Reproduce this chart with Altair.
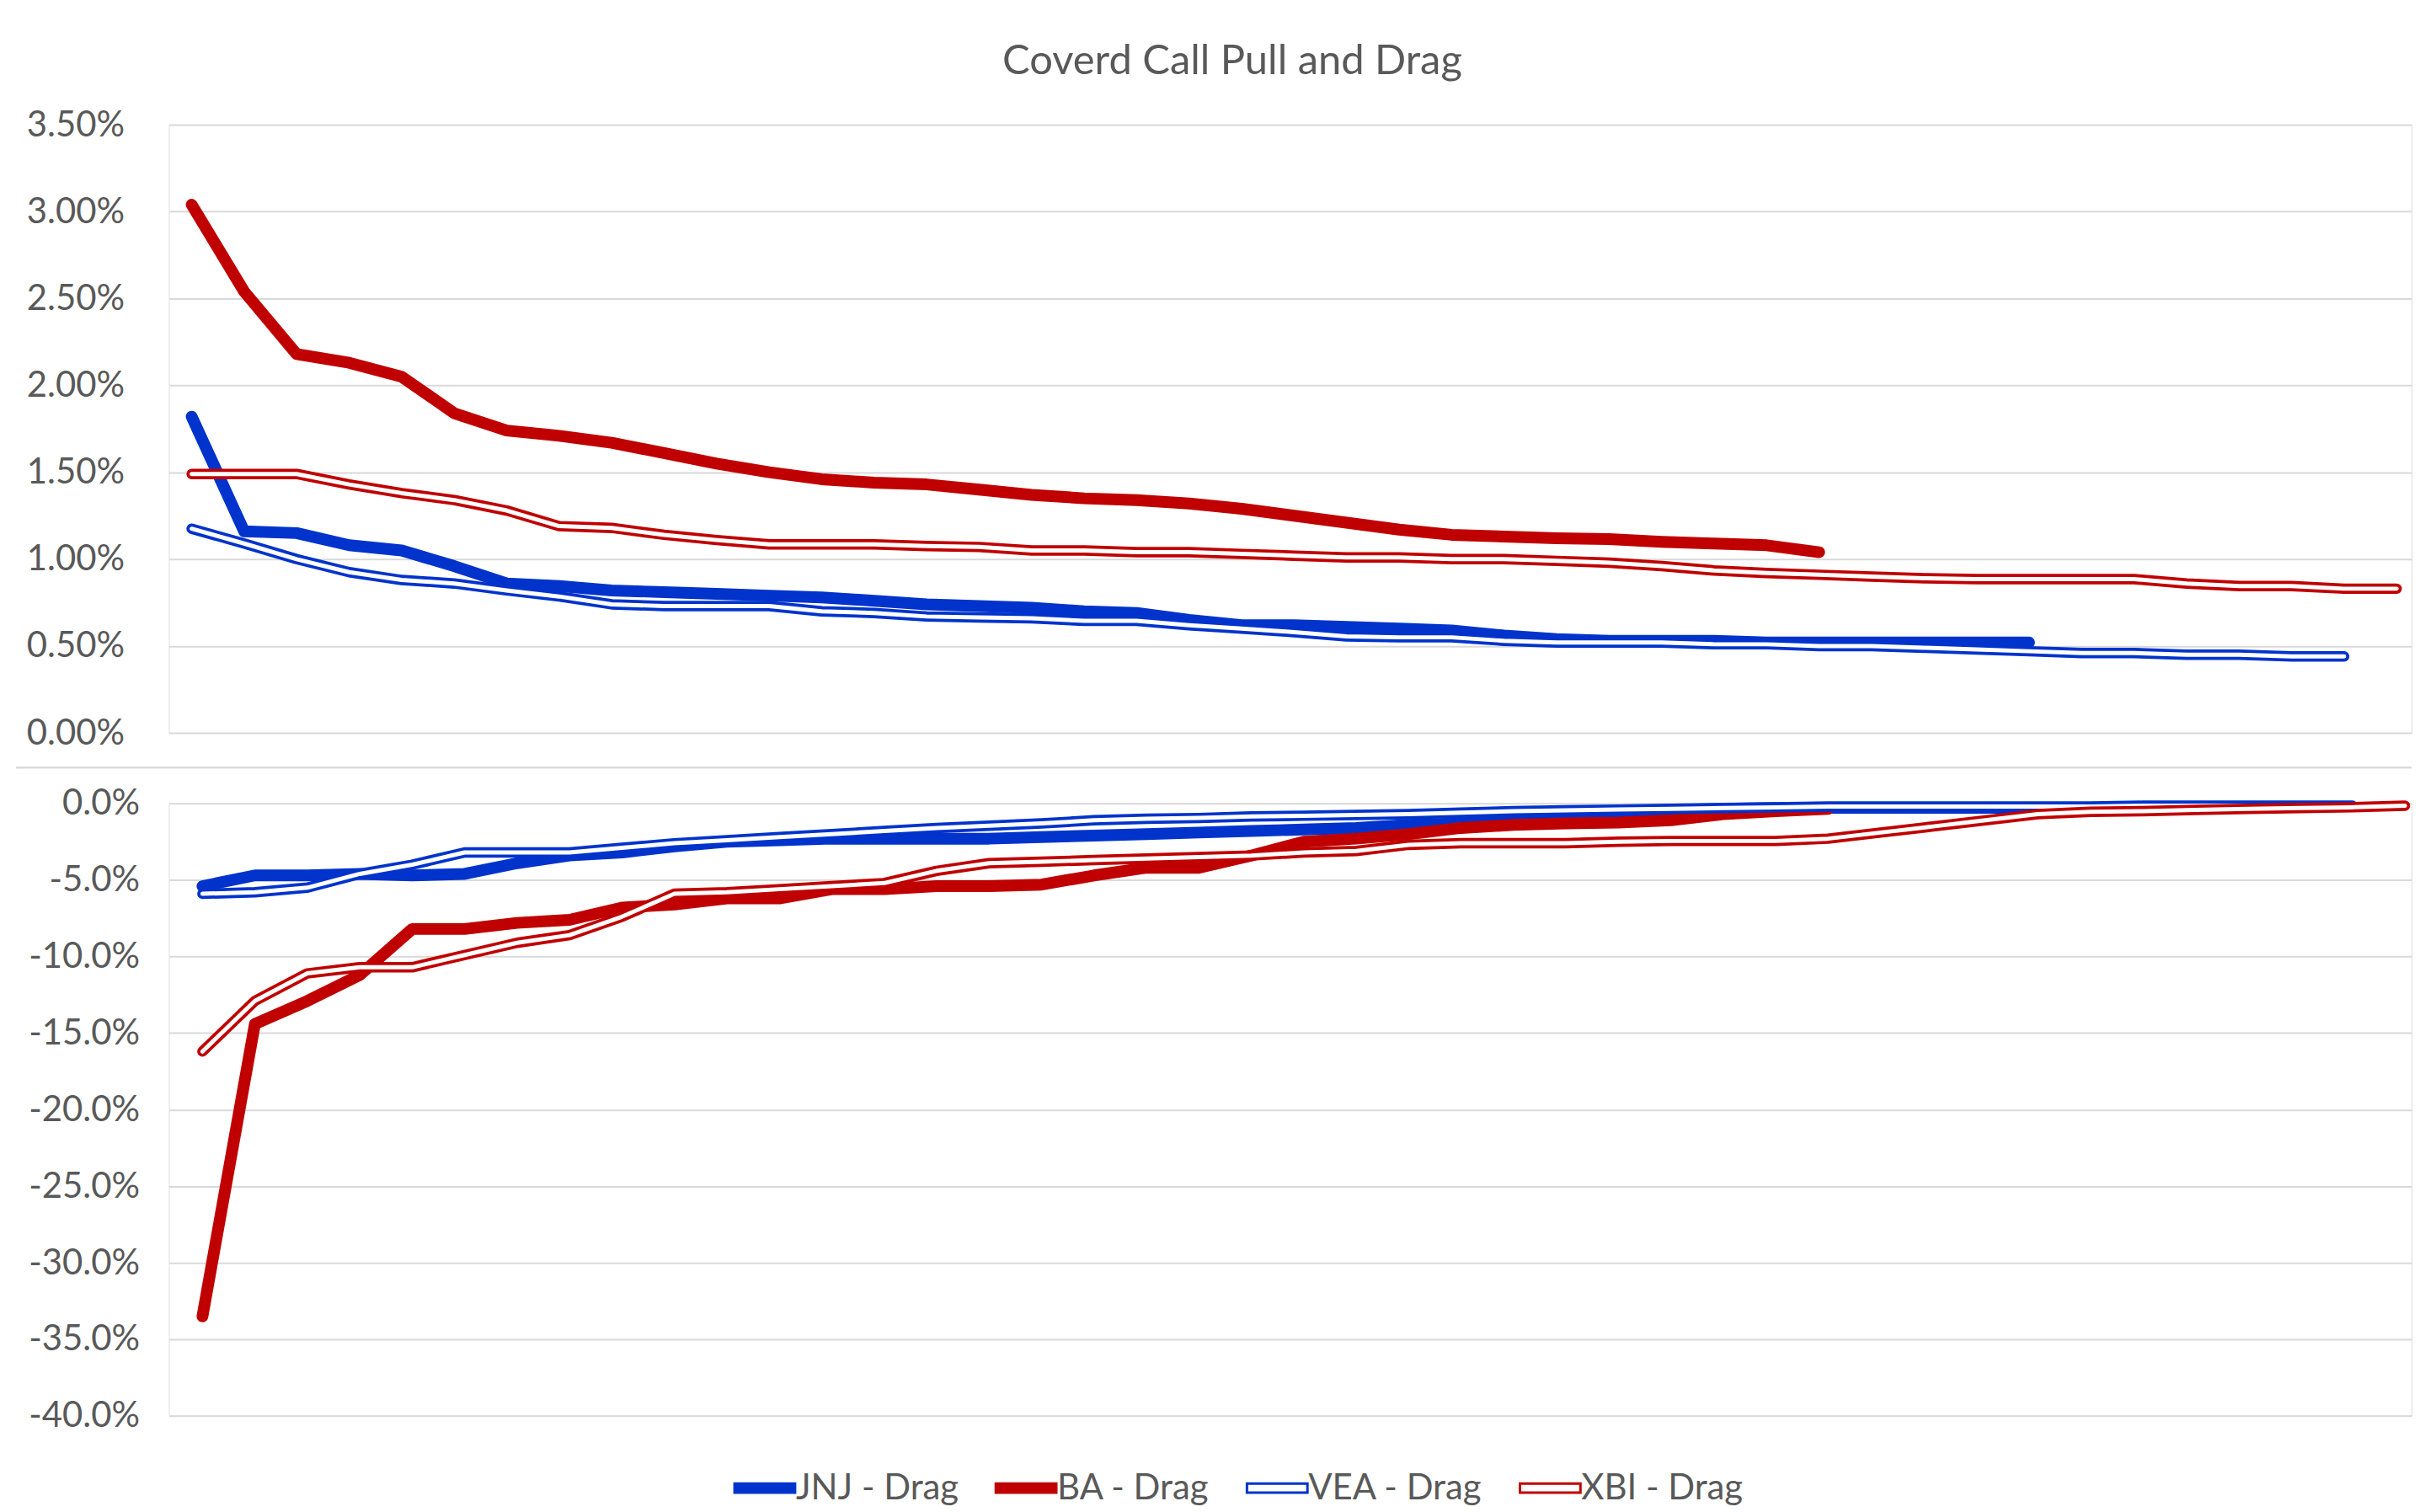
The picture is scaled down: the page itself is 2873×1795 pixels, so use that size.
import altair as alt
import pandas as pd

# ---------------- data (percent, one value per strike position) ----------------
jnj_pull = [1.82, 1.16, 1.15, 1.08, 1.05, 0.96, 0.86, 0.845, 0.82, 0.81, 0.80, 0.79,
            0.78, 0.76, 0.74, 0.73, 0.72, 0.70, 0.69, 0.65, 0.62, 0.62, 0.61, 0.60,
            0.59, 0.56, 0.54, 0.53, 0.53, 0.53, 0.52, 0.52, 0.52, 0.52, 0.52, 0.52]
ba_pull = [3.04, 2.54, 2.18, 2.13, 2.05, 1.84, 1.74, 1.71, 1.67, 1.61, 1.55, 1.50,
           1.46, 1.44, 1.43, 1.40, 1.37, 1.35, 1.34, 1.32, 1.29, 1.25, 1.21, 1.17,
           1.14, 1.13, 1.12, 1.115, 1.10, 1.09, 1.08, 1.04]
vea_pull = [1.175, 1.09, 1.00, 0.925, 0.88, 0.86, 0.82, 0.785, 0.74, 0.73, 0.73, 0.73,
            0.70, 0.69, 0.67, 0.665, 0.66, 0.645, 0.645, 0.62, 0.60, 0.58, 0.555, 0.55,
            0.55, 0.53, 0.52, 0.52, 0.52, 0.51, 0.51, 0.50, 0.50, 0.49, 0.48, 0.47,
            0.46, 0.46, 0.45, 0.45, 0.44, 0.44]
xbi_pull = [1.49, 1.49, 1.49, 1.43, 1.38, 1.34, 1.28, 1.19, 1.18, 1.14, 1.11, 1.085,
            1.085, 1.085, 1.075, 1.07, 1.05, 1.05, 1.04, 1.04, 1.03, 1.02, 1.01, 1.01,
            1.00, 1.00, 0.99, 0.98, 0.96, 0.935, 0.92, 0.91, 0.90, 0.89, 0.885, 0.885,
            0.885, 0.885, 0.86, 0.845, 0.845, 0.83, 0.83]

jnj_drag = [-5.4, -4.7, -4.7, -4.6, -4.7, -4.6, -3.9, -3.4, -3.2, -2.8, -2.5, -2.4,
            -2.3, -2.3, -2.3, -2.3, -2.2, -2.1, -2.0, -1.9, -1.8, -1.7, -1.6, -1.4,
            -1.3, -1.1, -0.8, -0.6, -0.45, -0.35, -0.3, -0.28, -0.28, -0.28, -0.28, -0.28]
ba_drag = [-33.5, -14.4, -12.9, -11.2, -8.2, -8.2, -7.8, -7.6, -6.8, -6.6, -6.2, -6.2,
           -5.6, -5.6, -5.4, -5.4, -5.3, -4.7, -4.2, -4.2, -3.4, -2.5, -2.3, -2.0,
           -1.6, -1.4, -1.3, -1.25, -1.1, -0.7, -0.5, -0.35]
vea_drag = [-5.9, -5.8, -5.5, -4.6, -4.0, -3.2, -3.2, -3.2, -2.9, -2.6, -2.4, -2.2,
            -2.0, -1.8, -1.6, -1.45, -1.3, -1.1, -1.0, -0.95, -0.85, -0.8, -0.75, -0.7,
            -0.6, -0.5, -0.45, -0.4, -0.35, -0.3, -0.25, -0.2, -0.2, -0.2, -0.2, -0.2,
            -0.2, -0.15, -0.15, -0.15, -0.15, -0.15]
xbi_drag = [-16.2, -12.9, -11.1, -10.7, -10.7, -9.9, -9.1, -8.6, -7.4, -5.9, -5.8, -5.6,
            -5.4, -5.2, -4.4, -3.9, -3.8, -3.7, -3.6, -3.5, -3.4, -3.2, -3.1, -2.7,
            -2.6, -2.6, -2.6, -2.5, -2.45, -2.45, -2.45, -2.3, -1.9, -1.5, -1.1, -0.7,
            -0.55, -0.5, -0.42, -0.35, -0.3, -0.25, -0.15]

names = ["JNJ", "BA", "VEA", "XBI"]
title_text = "Coverd Call Pull and Drag"
pull_ticks = [0.0, 0.005, 0.01, 0.015, 0.02, 0.025, 0.03, 0.035]
drag_ticks = [0.0, -0.05, -0.10, -0.15, -0.20, -0.25, -0.30, -0.35, -0.40]

# ---------------- style ----------------
BLUE = "#0033CC"
RED = "#C00000"
GRID = "#D9D9D9"
TEXT = "#595959"
FONT = "Lato"
PLOT_W = 2670
TOP_H = 724
BOT_H = 729


def long_frame(panel, arrays):
    rows = []
    for name, vals in zip(names, arrays):
        for i, v in enumerate(vals):
            rows.append({"series": f"{name} - {panel}", "name": name, "idx": i, "value": v / 100.0})
    return pd.DataFrame(rows)


pull_df = long_frame("Pull", [jnj_pull, ba_pull, vea_pull, xbi_pull])
drag_df = long_frame("Drag", [jnj_drag, ba_drag, vea_drag, xbi_drag])
divider_df = pd.DataFrame({"value": [-0.002]})


def line_layers(base):
    rnd = dict(strokeCap="round", strokeJoin="round")
    return [
        base.transform_filter(alt.datum.name == "JNJ").mark_line(color=BLUE, strokeWidth=14, **rnd),
        base.transform_filter(alt.datum.name == "BA").mark_line(color=RED, strokeWidth=14, **rnd),
        base.transform_filter(alt.datum.name == "VEA").mark_line(color=BLUE, strokeWidth=12.5, **rnd),
        base.transform_filter(alt.datum.name == "VEA").mark_line(color="white", strokeWidth=5, **rnd),
        base.transform_filter(alt.datum.name == "XBI").mark_line(color=RED, strokeWidth=12.5, **rnd),
        base.transform_filter(alt.datum.name == "XBI").mark_line(color="white", strokeWidth=5, **rnd),
    ]


axis_common = dict(title=None, domain=False, ticks=False, tickSize=0, labelFont=FONT,
                   labelFontSize=42, labelColor=TEXT, gridColor=GRID, gridWidth=2,
                   minExtent=192, maxExtent=192, labelBaseline="middle")

# ---------------- top panel (pull) ----------------
top_y = alt.Y("value:Q", scale=alt.Scale(domain=[0, 0.035], nice=False, zero=False),
              axis=alt.Axis(values=pull_ticks, format=".2%", labelPadding=53, **axis_common))
top_x = alt.X("idx:Q", scale=alt.Scale(domain=[-0.435, 42.285], nice=False, zero=False), axis=None)
top_base = alt.Chart(pull_df).encode(x=top_x, y=top_y)

divider = alt.Chart(divider_df).mark_rule(color=GRID, strokeWidth=2.5).encode(
    y=top_y, x=alt.value(-182), x2=alt.value(PLOT_W))

top = alt.layer(*line_layers(top_base), divider).properties(
    width=PLOT_W, height=TOP_H,
    title=alt.TitleParams(title_text, font=FONT, fontSize=49, fontWeight="normal", color=TEXT,
                          anchor="middle", frame="group", dx=-69, offset=-10, baseline="alphabetic"))

# ---------------- bottom panel (drag) ----------------
bot_y = alt.Y("value:Q", scale=alt.Scale(domain=[-0.40, 0], nice=False, zero=False),
              axis=alt.Axis(values=drag_ticks, labelPadding=35,
                            labelExpr="(datum.value < -0.0001 ? '-' : '') + format(abs(datum.value), '.1%')",
                            **axis_common))
bot_x = alt.X("idx:Q", scale=alt.Scale(domain=[-0.641, 42.127], nice=False, zero=False), axis=None)
bot_base = alt.Chart(drag_df).encode(x=bot_x, y=bot_y)

legend_domain = [f"{n} - Drag" for n in names]
leg = alt.Legend(title=None, orient="none", legendX=688.5, legendY=1602, direction="horizontal",
                 symbolType="M-3,-0.45L3,-0.45L3,0.45L-3,0.45Z", symbolSize=576,
                 symbolStrokeWidth=3, symbolOpacity=1, symbolFillColor="white",
                 symbolStrokeColor="black", labelFont=FONT, labelFontSize=42, labelLimit=500,
                 labelColor=TEXT, labelOffset=16, columnPadding=38, padding=0)
legend_layer = bot_base.transform_filter(alt.datum.idx == 0).mark_point(
    filled=True, opacity=0, size=10).encode(
    stroke=alt.Stroke("series:N", scale=alt.Scale(domain=legend_domain, range=[BLUE, RED, BLUE, RED]), legend=leg),
    fill=alt.Fill("series:N", scale=alt.Scale(domain=legend_domain, range=[BLUE, RED, "white", "white"]), legend=leg),
)

bottom = alt.layer(*line_layers(bot_base), legend_layer).properties(width=PLOT_W, height=BOT_H)

chart = alt.vconcat(top, bottom, spacing=84, bounds="flush").properties(
    padding={"left": 0, "top": 38, "right": 0, "bottom": 0}
).configure_view(stroke=None).configure(background="white", font=FONT)

chart.save("out.html", embed_options={"renderer": "svg", "actions": False})
